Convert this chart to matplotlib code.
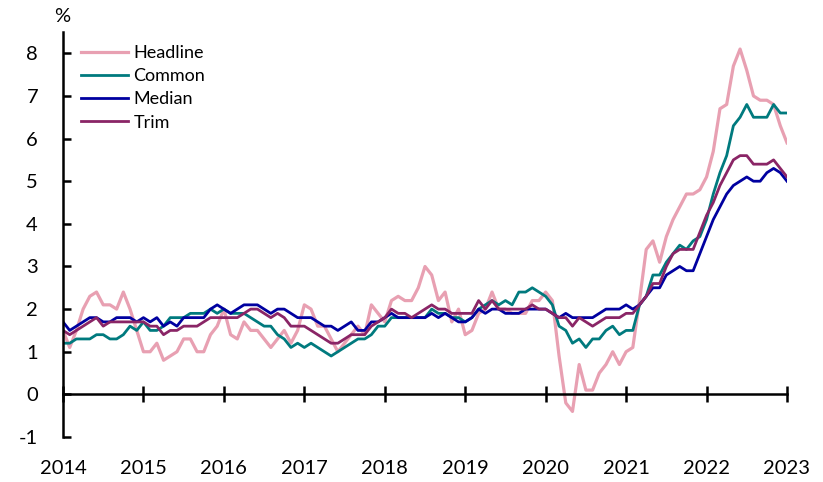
# Canada CPI: headline vs core measures, y/y % change, Jan 2014 - Jan 2023
import matplotlib.pyplot as plt
import numpy as np

plt.rcParams['font.family'] = ['Lato', 'DejaVu Sans']
plt.rcParams['axes.unicode_minus'] = False

headline = [1.5, 1.1, 1.5, 2.0, 2.3, 2.4, 2.1, 2.1, 2.0, 2.4, 2.0, 1.5,
            1.0, 1.0, 1.2, 0.8, 0.9, 1.0, 1.3, 1.3, 1.0, 1.0, 1.4, 1.6,
            2.0, 1.4, 1.3, 1.7, 1.5, 1.5, 1.3, 1.1, 1.3, 1.5, 1.2, 1.5,
            2.1, 2.0, 1.6, 1.6, 1.3, 1.0, 1.2, 1.4, 1.6, 1.4, 2.1, 1.9,
            1.7, 2.2, 2.3, 2.2, 2.2, 2.5, 3.0, 2.8, 2.2, 2.4, 1.7, 2.0,
            1.4, 1.5, 1.9, 2.0, 2.4, 2.0, 2.0, 1.9, 1.9, 1.9, 2.2, 2.2,
            2.4, 2.2, 0.9, -0.2, -0.4, 0.7, 0.1, 0.1, 0.5, 0.7, 1.0, 0.7,
            1.0, 1.1, 2.2, 3.4, 3.6, 3.1, 3.7, 4.1, 4.4, 4.7, 4.7, 4.8,
            5.1, 5.7, 6.7, 6.8, 7.7, 8.1, 7.6, 7.0, 6.9, 6.9, 6.8, 6.3,
            5.9]
common = [1.2, 1.2, 1.3, 1.3, 1.3, 1.4, 1.4, 1.3, 1.3, 1.4, 1.6, 1.5,
          1.7, 1.5, 1.5, 1.6, 1.8, 1.8, 1.8, 1.9, 1.9, 1.9, 2.0, 1.9,
          2.0, 1.9, 1.9, 1.9, 1.8, 1.7, 1.6, 1.6, 1.4, 1.3, 1.1, 1.2,
          1.1, 1.2, 1.1, 1.0, 0.9, 1.0, 1.1, 1.2, 1.3, 1.3, 1.4, 1.6,
          1.6, 1.8, 1.8, 1.8, 1.8, 1.8, 1.8, 2.0, 1.9, 1.9, 1.8, 1.8,
          1.7, 1.8, 2.0, 2.1, 2.2, 2.1, 2.2, 2.1, 2.4, 2.4, 2.5, 2.4,
          2.3, 2.1, 1.6, 1.5, 1.2, 1.3, 1.1, 1.3, 1.3, 1.5, 1.6, 1.4,
          1.5, 1.5, 2.1, 2.3, 2.8, 2.8, 3.1, 3.3, 3.5, 3.4, 3.6, 3.7,
          4.1, 4.7, 5.2, 5.6, 6.3, 6.5, 6.8, 6.5, 6.5, 6.5, 6.8, 6.6,
          6.6]
median = [1.7, 1.5, 1.6, 1.7, 1.8, 1.8, 1.7, 1.7, 1.8, 1.8, 1.8, 1.7,
          1.8, 1.7, 1.8, 1.6, 1.7, 1.6, 1.8, 1.8, 1.8, 1.8, 2.0, 2.1,
          2.0, 1.9, 2.0, 2.1, 2.1, 2.1, 2.0, 1.9, 2.0, 2.0, 1.9, 1.8,
          1.8, 1.8, 1.7, 1.6, 1.6, 1.5, 1.6, 1.7, 1.5, 1.5, 1.7, 1.7,
          1.8, 1.9, 1.8, 1.8, 1.8, 1.8, 1.8, 1.9, 1.8, 1.9, 1.8, 1.7,
          1.7, 1.8, 2.0, 1.9, 2.0, 2.0, 1.9, 1.9, 1.9, 2.0, 2.0, 2.0,
          2.0, 1.9, 1.8, 1.9, 1.8, 1.8, 1.8, 1.8, 1.9, 2.0, 2.0, 2.0,
          2.1, 2.0, 2.1, 2.3, 2.5, 2.5, 2.8, 2.9, 3.0, 2.9, 2.9, 3.3,
          3.7, 4.1, 4.4, 4.7, 4.9, 5.0, 5.1, 5.0, 5.0, 5.2, 5.3, 5.2,
          5.0]
trim = [1.5, 1.4, 1.5, 1.6, 1.7, 1.8, 1.6, 1.7, 1.7, 1.7, 1.7, 1.7,
        1.7, 1.6, 1.6, 1.4, 1.5, 1.5, 1.6, 1.6, 1.6, 1.7, 1.8, 1.8,
        1.8, 1.8, 1.8, 1.9, 2.0, 2.0, 1.9, 1.8, 1.9, 1.8, 1.6, 1.6,
        1.6, 1.5, 1.4, 1.3, 1.2, 1.2, 1.3, 1.4, 1.4, 1.4, 1.6, 1.7,
        1.8, 2.0, 1.9, 1.9, 1.8, 1.9, 2.0, 2.1, 2.0, 2.0, 1.9, 1.9,
        1.9, 1.9, 2.2, 2.0, 2.2, 2.0, 2.0, 2.0, 2.0, 2.0, 2.1, 2.0,
        2.0, 1.9, 1.8, 1.8, 1.6, 1.8, 1.7, 1.6, 1.7, 1.8, 1.8, 1.8,
        1.9, 1.9, 2.1, 2.3, 2.6, 2.6, 3.0, 3.3, 3.4, 3.4, 3.4, 3.8,
        4.2, 4.5, 4.9, 5.2, 5.5, 5.6, 5.6, 5.4, 5.4, 5.4, 5.5, 5.3,
        5.1]
years = list(range(2014, 2024))

months = 2014 + np.arange(len(headline)) / 12

fig = plt.figure(figsize=(8.23, 4.82), dpi=100)
ax = fig.add_axes([63 / 823, 45 / 482, 724 / 823, 405 / 482])

ax.plot(months, headline, color='#E8A0B2', lw=2.3, label='Headline')
ax.plot(months, common, color='#007A7E', lw=2.0, label='Common')
ax.plot(months, median, color='#0000A0', lw=2.0, label='Median')
ax.plot(months, trim, color='#8A2566', lw=2.0, label='Trim')

ax.set_xlim(2014, 2023)
ax.set_ylim(-1, 8.5)
ax.spines['top'].set_visible(False)
ax.spines['right'].set_visible(False)
ax.spines['bottom'].set_position(('data', 0))
ax.spines['left'].set_bounds(-1, 8.5)
for s in ['left', 'bottom']:
    ax.spines[s].set_linewidth(1.8)

ax.set_yticks(range(-1, 9))
ax.tick_params(axis='y', direction='in', length=6, width=1.8, labelsize=14.5, pad=18)
ax.set_xticks(years)
ax.tick_params(axis='x', direction='inout', length=12, width=1.8, labelbottom=False)
for yr in years:
    ax.text(yr, -0.077, str(yr), transform=ax.get_xaxis_transform(),
            ha='center', va='center', fontsize=14.5)

fig.text(62 / 823, 1 - 17 / 482, '%', ha='center', va='center', fontsize=14.5)

ax.legend(loc='upper left', bbox_to_anchor=(72 / 823, 1 - 36 / 482),
          bbox_transform=fig.transFigure, frameon=False, fontsize=13,
          handlelength=2.6, handletextpad=0.3, labelspacing=0.4, borderpad=0)

fig.savefig('out.png')
